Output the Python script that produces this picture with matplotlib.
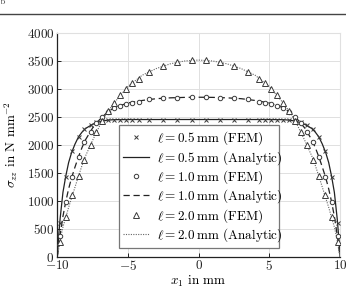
import matplotlib
matplotlib.use("Agg")
import matplotlib.pyplot as plt
from matplotlib.lines import Line2D

plt.rcParams['font.family'] = 'serif'
plt.rcParams['font.serif'] = ['cmr10', 'DejaVu Serif']
plt.rcParams['mathtext.fontset'] = 'cm'
plt.rcParams['axes.formatter.use_mathtext'] = True

# FEM node positions (mm)
x_fem = [-9.83, -9.4, -8.95, -8.5, -8.1, -7.65, -7.25, -6.85, -6.4, -6.0, -5.55, -5.15, -4.7, -4.25,
         -3.5, -2.5, -1.5, -0.5, 0.5, 1.5, 2.5, 3.5,
         4.25, 4.7, 5.15, 5.55, 6.0, 6.4, 6.85, 7.25, 7.65, 8.1, 8.5, 8.95, 9.4, 9.83]
fem_l05 = [600, 1420, 1885, 2140, 2285, 2355, 2397, 2428, 2448, 2450, 2450, 2450, 2450, 2450,
           2450, 2450, 2450, 2450, 2450, 2450, 2450, 2450,
           2450, 2450, 2450, 2450, 2450, 2448, 2428, 2397, 2355, 2285, 2140, 1885, 1420, 600]
fem_l10 = [365, 985, 1430, 1785, 2045, 2235, 2380, 2500, 2590, 2660, 2700, 2722, 2748, 2768,
           2810, 2827, 2838, 2845, 2845, 2838, 2827, 2810,
           2768, 2748, 2722, 2700, 2660, 2590, 2500, 2380, 2235, 2045, 1785, 1430, 985, 365]
fem_l20 = [265, 702, 1110, 1440, 1735, 1995, 2232, 2420, 2600, 2740, 2880, 2988, 3095, 3180,
           3298, 3405, 3475, 3505, 3505, 3475, 3405, 3298,
           3180, 3095, 2988, 2880, 2740, 2600, 2420, 2232, 1995, 1735, 1440, 1110, 702, 265]

# Analytic curves
x_an = [-10, -9.95, -9.9, -9.8, -9.6, -9.4, -9.2, -9.0, -8.75, -8.5, -8.25, -8.0, -7.5, -7.0,
        -6.5, -6.0, -5.0, -4.0, -3.0, -2.0, -1.0, 0, 1.0, 2.0, 3.0, 4.0, 5.0, 6.0, 6.5,
        7.0, 7.5, 8.0, 8.25, 8.5, 8.75, 9.0, 9.2, 9.4, 9.6, 9.8, 9.9, 9.95, 10]
an_l05 = [0, 200, 380, 680, 1150, 1440, 1680, 1850, 2010, 2140, 2225, 2290, 2365, 2410,
          2437, 2447, 2450, 2450, 2450, 2450, 2450, 2450, 2450, 2450, 2450, 2450, 2450, 2447, 2437,
          2410, 2365, 2290, 2225, 2140, 2010, 1850, 1680, 1440, 1150, 680, 380, 200, 0]
an_l10 = [0, 100, 200, 390, 720, 985, 1210, 1400, 1600, 1785, 1950, 2090, 2300, 2450,
          2570, 2660, 2745, 2790, 2822, 2837, 2845, 2848, 2845, 2837, 2822, 2790, 2745, 2660, 2570,
          2450, 2300, 2090, 1950, 1785, 1600, 1400, 1210, 985, 720, 390, 200, 100, 0]
an_l20 = [0, 70, 140, 300, 530, 702, 880, 1040, 1240, 1440, 1630, 1800, 2080, 2340,
          2565, 2740, 3040, 3240, 3360, 3445, 3495, 3512, 3495, 3445, 3360, 3240, 3040, 2740, 2565,
          2340, 2080, 1800, 1630, 1440, 1240, 1040, 880, 702, 530, 300, 140, 70, 0]

labels = [r'$\ell = 0.5\,\mathrm{mm}$ (FEM)', r'$\ell = 0.5\,\mathrm{mm}$ (Analytic)',
          r'$\ell = 1.0\,\mathrm{mm}$ (FEM)', r'$\ell = 1.0\,\mathrm{mm}$ (Analytic)',
          r'$\ell = 2.0\,\mathrm{mm}$ (FEM)', r'$\ell = 2.0\,\mathrm{mm}$ (Analytic)']

fig = plt.figure(figsize=(3.46, 2.87), dpi=100)
ax = fig.add_axes([0.1656, 0.1056, 0.8171, 0.7804])

mc = '#3a3a3a'
ax.plot(x_fem, fem_l05, linestyle='none', marker='x', ms=2.6, mew=0.7, color=mc, label=labels[0], zorder=3)
ax.plot(x_an, an_l05, '-', color='#222222', lw=0.9, label=labels[1], zorder=2)
ax.plot(x_fem, fem_l10, linestyle='none', marker='o', ms=3.2, mew=0.7, mfc='white', mec=mc, label=labels[2], zorder=3)
ax.plot(x_an, an_l10, color='#222222', lw=0.9, dashes=(5, 3), label=labels[3], zorder=2)
ax.plot(x_fem, fem_l20, linestyle='none', marker='^', ms=3.8, mew=0.7, mfc='white', mec=mc, label=labels[4], zorder=3)
ax.plot(x_an, an_l20, color='#666666', lw=0.8, linestyle=(0, (1, 1.2)), label=labels[5], zorder=2)

ax.set_xlim(-10, 10)
ax.set_ylim(0, 4000)
ax.set_xticks([-10, -5, 0, 5, 10])
ax.set_yticks(range(0, 4001, 500))
ax.grid(True, color='#e0e0e0', lw=0.7)
ax.set_axisbelow(True)
for s in ['top', 'right']:
    ax.spines[s].set_color('#e0e0e0')
for s in ['left', 'bottom']:
    ax.spines[s].set_color('#222222')
    ax.spines[s].set_linewidth(0.9)
ax.tick_params(direction='in', length=3, width=0.7, labelsize=9.5, colors='#222222', pad=2)

ax.set_xlabel(r'$x_1$ in mm', fontsize=9.5, labelpad=0)
ax.set_ylabel(r'$\sigma_{zz}$ in N mm$^{-2}$', fontsize=9.5, labelpad=5)

leg = ax.legend(loc='lower left', bbox_to_anchor=(0.218, 0.039, 0.566, 0.464), mode='expand',
                fontsize=9.5, frameon=True, fancybox=False, framealpha=1, edgecolor='#777777',
                labelspacing=0.12, handlelength=2.0, handletextpad=0.6, borderpad=0.3,
                borderaxespad=0)
leg.get_frame().set_linewidth(0.9)

fig.add_artist(Line2D([0, 1], [0.951, 0.951], color='#444444', lw=1.0, transform=fig.transFigure))
fig.text(0.0, 0.995, 'b', fontsize=7, va='center', ha='left', color='#444444')

fig.savefig('out.png', dpi=100)
